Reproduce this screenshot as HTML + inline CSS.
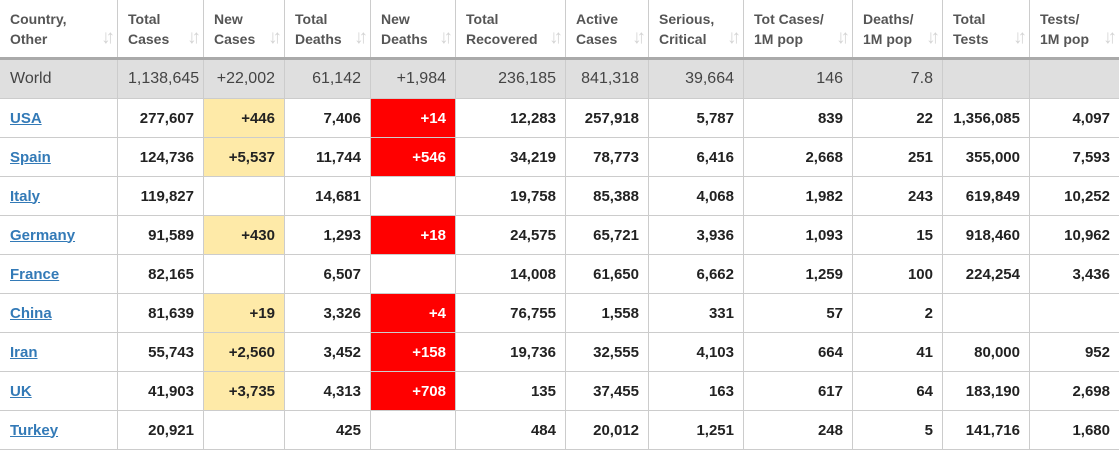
<!DOCTYPE html><html><head><style>
body{margin:0;background:#fff;width:1119px;height:442px;overflow:hidden;font-family:"Liberation Sans",Arial,sans-serif}
table{border-collapse:collapse;table-layout:fixed;width:1121px;margin-left:-1px}
td,th{border:1px solid #ccc;padding:0 9px 0 10px;text-align:right;font-size:15px;font-weight:bold;color:#222;height:38px;white-space:nowrap;overflow:hidden}
th{height:57px;text-align:left;color:#555;font-size:14px;line-height:20px;position:relative;vertical-align:middle;border-top:none}
th span{position:absolute;right:7px;bottom:9px;color:#d4d4d4;font-size:19px;letter-spacing:-5px}
tr.w td{background:#dfdfdf;font-weight:normal;color:#444;font-size:16px;border-top:3px solid #aaa}
td:first-child{text-align:left}
a{color:#337ab7;text-decoration:underline}
.y{background:#feeaa8}.r{background:#f00;color:#fff}
</style></head><body><table>
<colgroup><col style="width:118px"><col style="width:86px"><col style="width:81px"><col style="width:86px"><col style="width:85px"><col style="width:110px"><col style="width:83px"><col style="width:95px"><col style="width:109px"><col style="width:90px"><col style="width:87px"><col style="width:90px"></colgroup>
<tr><th>Country,<br>Other<span>↓↑</span></th><th>Total<br>Cases<span>↓↑</span></th><th>New<br>Cases<span>↓↑</span></th><th>Total<br>Deaths<span>↓↑</span></th><th>New<br>Deaths<span>↓↑</span></th><th>Total<br>Recovered<span>↓↑</span></th><th>Active<br>Cases<span>↓↑</span></th><th>Serious,<br>Critical<span>↓↑</span></th><th>Tot Cases/<br>1M pop<span>↓↑</span></th><th>Deaths/<br>1M pop<span>↓↑</span></th><th>Total<br>Tests<span>↓↑</span></th><th>Tests/<br>1M pop<span>↓↑</span></th></tr>
<tr class="w"><td>World</td><td>1,138,645</td><td>+22,002</td><td>61,142</td><td>+1,984</td><td>236,185</td><td>841,318</td><td>39,664</td><td>146</td><td>7.8</td><td></td><td></td></tr>
<tr><td><a>USA</a></td><td>277,607</td><td class="y">+446</td><td>7,406</td><td class="r">+14</td><td>12,283</td><td>257,918</td><td>5,787</td><td>839</td><td>22</td><td>1,356,085</td><td>4,097</td></tr>
<tr><td><a>Spain</a></td><td>124,736</td><td class="y">+5,537</td><td>11,744</td><td class="r">+546</td><td>34,219</td><td>78,773</td><td>6,416</td><td>2,668</td><td>251</td><td>355,000</td><td>7,593</td></tr>
<tr><td><a>Italy</a></td><td>119,827</td><td></td><td>14,681</td><td></td><td>19,758</td><td>85,388</td><td>4,068</td><td>1,982</td><td>243</td><td>619,849</td><td>10,252</td></tr>
<tr><td><a>Germany</a></td><td>91,589</td><td class="y">+430</td><td>1,293</td><td class="r">+18</td><td>24,575</td><td>65,721</td><td>3,936</td><td>1,093</td><td>15</td><td>918,460</td><td>10,962</td></tr>
<tr><td><a>France</a></td><td>82,165</td><td></td><td>6,507</td><td></td><td>14,008</td><td>61,650</td><td>6,662</td><td>1,259</td><td>100</td><td>224,254</td><td>3,436</td></tr>
<tr><td><a>China</a></td><td>81,639</td><td class="y">+19</td><td>3,326</td><td class="r">+4</td><td>76,755</td><td>1,558</td><td>331</td><td>57</td><td>2</td><td></td><td></td></tr>
<tr><td><a>Iran</a></td><td>55,743</td><td class="y">+2,560</td><td>3,452</td><td class="r">+158</td><td>19,736</td><td>32,555</td><td>4,103</td><td>664</td><td>41</td><td>80,000</td><td>952</td></tr>
<tr><td><a>UK</a></td><td>41,903</td><td class="y">+3,735</td><td>4,313</td><td class="r">+708</td><td>135</td><td>37,455</td><td>163</td><td>617</td><td>64</td><td>183,190</td><td>2,698</td></tr>
<tr><td><a>Turkey</a></td><td>20,921</td><td></td><td>425</td><td></td><td>484</td><td>20,012</td><td>1,251</td><td>248</td><td>5</td><td>141,716</td><td>1,680</td></tr>
</table></body></html>
